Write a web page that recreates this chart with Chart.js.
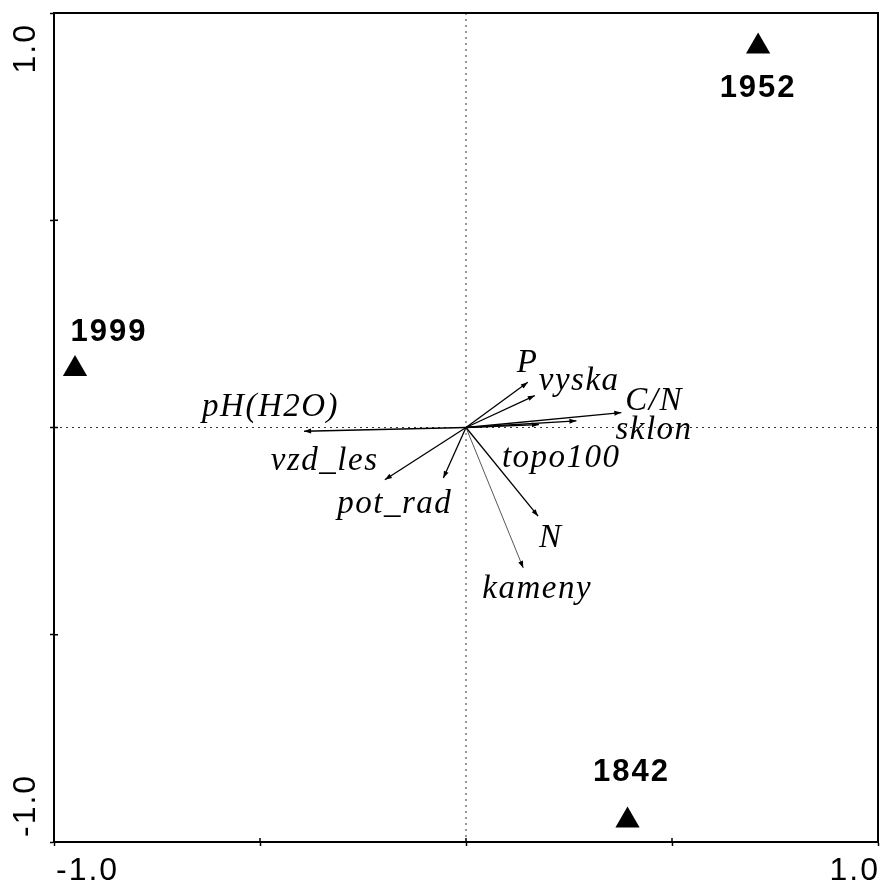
<!DOCTYPE html>
<html>
<head>
<meta charset="utf-8">
<script src="https://cdn.jsdelivr.net/npm/chart.js@4.4.1/dist/chart.umd.min.js"></script>
<style>
  body { margin: 0; background: #fff; }
  #wrap { width: 882px; height: 881px; }
</style>
</head>
<body>
<div id="wrap"><canvas id="ord" width="882" height="881"></canvas></div>
<script>
// environmental variables (arrows)
const envNames = ['P', 'vyska', 'C/N', 'sklon', 'topo100', 'pH(H2O)', 'vzd_les', 'pot_rad', 'N', 'kameny'];
const envX = [0.150, 0.167, 0.377, 0.268, 0.177, -0.393, -0.197, -0.055, 0.175, 0.139];
const envY = [0.109, 0.077, 0.036, 0.016, 0.007, -0.009, -0.126, -0.122, -0.214, -0.339];

// samples (triangles)
const yearNames = ['1952', '1999', '1842'];
const yearX = [0.709, -0.949, 0.392];
const yearY = [0.919, 0.141, -0.948];

// axis
const axisMin = -1;
const axisMax = 1;
const tickStep = 0.5;
const axisLabels = [-1, 1];

// label placement, px relative to arrow tip / triangle
const envLabelOff = {
  'P': [-11, -10], 'vyska': [4, -6], 'C/N': [4, -3], 'sklon': [39, 18],
  'topo100': [-37, 42], 'pH(H2O)': [-102, -15], 'vzd_les': [-114, -10],
  'pot_rad': [-106, 35], 'N': [1, 31], 'kameny': [-41, 30]
};
const yearLabelOff = { '1952': [0, 42], '1999': [34, -37], '1842': [4, -48] };

const serifIt = "italic 33px 'Liberation Serif', 'Times New Roman', serif";
const sansBold = "bold 31px 'Liberation Sans', Arial, sans-serif";
const sans = "32px 'Liberation Sans', Arial, sans-serif";

const datasets = [];
envNames.forEach((name, i) => {
  datasets.push({
    type: 'scatter',
    label: name,
    data: [{ x: 0, y: 0 }, { x: envX[i], y: envY[i] }],
    showLine: true,
    borderColor: name === 'kameny' ? '#444' : '#000',
    borderWidth: name === 'kameny' ? 0.9 : 1.3,
    pointRadius: 0
  });
});
datasets.push({
  type: 'scatter',
  label: 'years',
  data: yearNames.map((n, i) => ({ x: yearX[i], y: yearY[i] })),
  pointStyle: 'triangle',
  pointRadius: 14,
  backgroundColor: '#000',
  borderColor: '#000',
  borderWidth: 0
});

const decor = {
  id: 'decor',
  beforeDatasetsDraw(chart) {
    const c = chart.ctx, a = chart.chartArea;
    const xs = chart.scales.x, ys = chart.scales.y;
    const x0 = xs.getPixelForValue(0), y0 = ys.getPixelForValue(0);
    c.save();
    c.strokeStyle = '#333';
    c.lineWidth = 1;
    c.setLineDash([2, 4]);
    c.beginPath();
    c.moveTo(a.left, y0); c.lineTo(a.right, y0);
    c.moveTo(x0, a.top); c.lineTo(x0, a.bottom);
    c.stroke();
    c.restore();
  },
  afterDatasetsDraw(chart) {
    const c = chart.ctx, a = chart.chartArea;
    const xs = chart.scales.x, ys = chart.scales.y;
    const ox = xs.getPixelForValue(0), oy = ys.getPixelForValue(0);
    c.save();
    // arrowheads + labels
    envNames.forEach((name, i) => {
      const tx = xs.getPixelForValue(envX[i]), ty = ys.getPixelForValue(envY[i]);
      const ang = Math.atan2(ty - oy, tx - ox);
      const L = 7, W = 2.5;
      c.fillStyle = '#000';
      c.beginPath();
      c.moveTo(tx, ty);
      c.lineTo(tx - L * Math.cos(ang) + W * Math.sin(ang), ty - L * Math.sin(ang) - W * Math.cos(ang));
      c.lineTo(tx - L * Math.cos(ang) - W * Math.sin(ang), ty - L * Math.sin(ang) + W * Math.cos(ang));
      c.closePath();
      c.fill();
      const off = envLabelOff[name];
      c.font = serifIt;
      c.letterSpacing = '1.5px';
      c.textAlign = 'left';
      c.textBaseline = 'alphabetic';
      c.fillText(name, tx + off[0], ty + off[1]);
    });
    // year labels
    yearNames.forEach((name, i) => {
      const px = xs.getPixelForValue(yearX[i]), py = ys.getPixelForValue(yearY[i]);
      const off = yearLabelOff[name];
      c.font = sansBold;
      c.letterSpacing = '2px';
      c.textAlign = 'center';
      c.textBaseline = 'middle';
      c.fillText(name, px + off[0], py + off[1]);
    });
    // frame top/right
    c.letterSpacing = '0px';
    c.strokeStyle = '#000';
    c.lineWidth = 2;
    c.beginPath();
    c.moveTo(a.left, a.top); c.lineTo(a.right, a.top); c.lineTo(a.right, a.bottom);
    c.stroke();
    // inner tick stubs
    c.lineWidth = 1.5;
    c.beginPath();
    for (let v = axisMin + tickStep; v < axisMax; v += tickStep) {
      const px = xs.getPixelForValue(v), py = ys.getPixelForValue(v);
      c.moveTo(px, a.bottom); c.lineTo(px, a.bottom - 4);
      c.moveTo(a.left, py); c.lineTo(a.left + 4, py);
    }
    c.stroke();
    // axis labels
    c.fillStyle = '#000';
    c.font = sans;
    c.letterSpacing = '2px';
    c.textBaseline = 'top';
    axisLabels.forEach(v => {
      const px = xs.getPixelForValue(v);
      c.textAlign = v < 0 ? 'left' : 'right';
      c.fillText(v.toFixed(1), px + 2, a.bottom + 13);
    });
    axisLabels.forEach(v => {
      const py = ys.getPixelForValue(v);
      c.save();
      c.translate(26, v > 0 ? py + 10 : py - 5);
      c.rotate(-Math.PI / 2);
      c.textBaseline = 'middle';
      c.textAlign = v > 0 ? 'right' : 'left';
      c.fillText(v.toFixed(1), 0, 0);
      c.restore();
    });
    c.restore();
  }
};

function axisOpts(fitFn) {
  return {
    type: 'linear',
    min: axisMin,
    max: axisMax,
    ticks: { stepSize: tickStep, display: false },
    grid: { drawOnChartArea: false, color: '#000', tickColor: '#000', tickLength: 4, tickWidth: 1.5 },
    border: { color: '#000', width: 2 },
    afterFit: fitFn
  };
}

new Chart(document.getElementById('ord'), {
  type: 'scatter',
  data: { datasets: datasets },
  options: {
    responsive: false,
    devicePixelRatio: 1,
    animation: false,
    layout: { autoPadding: false, padding: { top: 13, right: 4, left: 0, bottom: 0 } },
    plugins: { legend: { display: false }, tooltip: { enabled: false } },
    scales: {
      x: axisOpts(s => { s.height = 39; }),
      y: axisOpts(s => { s.width = 54; })
    }
  },
  plugins: [decor]
});
</script>
</body>
</html>
